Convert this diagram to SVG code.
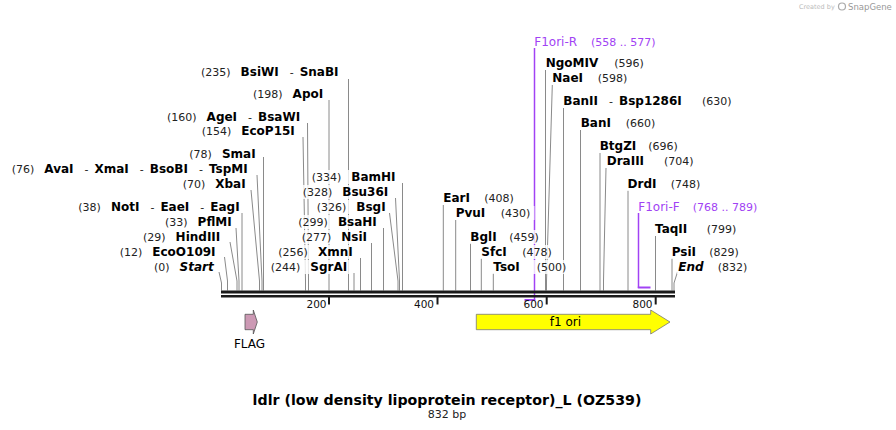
<svg xmlns="http://www.w3.org/2000/svg" width="896" height="430" viewBox="0 0 896 430">
<style>
text{font-family:"DejaVu Sans","Verdana",sans-serif}
.n{font-size:11px;fill:#222}
.b{font-size:12px;font-weight:bold;fill:#000}
.bi{font-size:12px;font-weight:bold;font-style:italic;fill:#000}
.p{fill:#a142f4}
.pn{font-size:12px;fill:#a142f4}
.pnum{font-size:11px;fill:#a142f4}
.bg{fill:#fff;fill-opacity:0.8}
.ln{fill:none;stroke:#8a8a8a;stroke-width:1}
.pl{fill:none;stroke:#a142f4;stroke-width:1.5}
.ps{fill:none;stroke:#a142f4;stroke-width:2}
.tick{stroke:#1a1a1a;stroke-width:2}
.tl{font-size:10.5px;fill:#111;text-anchor:end}
.ft{font-size:12px;fill:#000;text-anchor:middle}
</style>
<rect width="896" height="430" fill="#fff"/>
<g id="credit">
<text x="799" y="9" style="font-size:6.5px;fill:#bbb">Created by</text>
<circle cx="842" cy="6.5" r="3.5" fill="none" stroke="#aaa" stroke-width="1.2"/>
<text x="848" y="10" style="font-size:8.5px;fill:#999">SnapGene</text>
</g>
<g id="connectors">
<polyline class="ln" points="348.5,79 348.5,290.5"/>
<polyline class="ln" points="329,100 329,290.5"/>
<polyline class="ln" points="307.5,123 308.5,281 308.5,290.5"/>
<polyline class="ln" points="303,137 305.5,281 305.5,290.5"/>
<polyline class="ln" points="263.5,157 263.5,290.5"/>
<polyline class="ln" points="257,175 262,281 262,290.5"/>
<polyline class="ln" points="251,190 259.5,281 259.5,290.5"/>
<polyline class="ln" points="242,213 242,290.5"/>
<polyline class="ln" points="236,228 239,281 239,290.5"/>
<polyline class="ln" points="230,242 237,281 237,290.5"/>
<polyline class="ln" points="224.5,257 227.5,281 227.5,290.5"/>
<polyline class="ln" points="219,272 221.5,283 221.5,290.5"/>
<polyline class="ln" points="402.5,183 402.5,290.5"/>
<polyline class="ln" points="395.5,198 399.5,281 399.5,290.5"/>
<polyline class="ln" points="389.5,213 398,281 398,290.5"/>
<polyline class="ln" points="383.5,228 383.5,290.5"/>
<polyline class="ln" points="371.5,243 371.5,290.5"/>
<polyline class="ln" points="360.5,258 360.5,290.5"/>
<polyline class="ln" points="354,273 354,290.5"/>
<polyline class="ln" points="545.5,70 545.5,290.5"/>
<polyline class="ln" points="552.3,85 546.5,281 546.5,290.5"/>
<polyline class="ln" points="563.5,108 563.5,290.5"/>
<polyline class="ln" points="580.5,130 580.5,290.5"/>
<polyline class="ln" points="600,153 600,290.5"/>
<polyline class="ln" points="606,168 603.5,281 603.5,290.5"/>
<polyline class="ln" points="628,190 628,290.5"/>
<polyline class="ln" points="655.5,236 655.5,290.5"/>
<polyline class="ln" points="672,258 672,290.5"/>
<polyline class="ln" points="677.5,272 674,283 674,290.5"/>
<polyline class="ln" points="443.3,205 443.3,290.5"/>
<polyline class="ln" points="455.7,220 455.7,290.5"/>
<polyline class="ln" points="470.5,243 470.5,290.5"/>
<polyline class="ln" points="481.3,258 481.3,290.5"/>
<polyline class="ln" points="493.3,273 493.3,290.5"/>
<polyline class="pl" points="534.5,48 534.5,300"/>
<polyline class="ps" points="524.5,300 535.3,300"/>
<polyline class="pl" points="638.5,213 638.5,288"/>
<polyline class="ps" points="637.8,287.5 650.5,287.5"/>
</g>
<g id="backbone">
<rect x="221" y="290.5" width="454" height="3" fill="#1a1a1a"/>
<rect x="221" y="295" width="454" height="2.5" fill="#1a1a1a"/>
<line class="tick" x1="329" y1="297" x2="329" y2="304.5"/>
<line class="tick" x1="437.5" y1="297" x2="437.5" y2="304.5"/>
<line class="tick" x1="546.7" y1="297" x2="546.7" y2="304.5"/>
<line class="tick" x1="655.7" y1="297" x2="655.7" y2="304.5"/>
<text class="tl" x="326.5" y="307.5">200</text>
<text class="tl" x="434" y="307.5">400</text>
<text class="tl" x="543.5" y="307.5">600</text>
<text class="tl" x="652.5" y="307.5">800</text>
</g>
<g id="site-BsiWI-SnaBI"><rect class="bg" x="200" y="65" width="142" height="14"/><text x="201" y="76"><tspan class="n">(235)</tspan><tspan class="b" dx="10">BsiWI</tspan><tspan class="n" dx="11">-</tspan><tspan class="b" dx="6">SnaBI</tspan></text></g>
<g id="site-ApoI"><rect class="bg" x="252" y="87" width="74" height="14"/><text x="253" y="98"><tspan class="n">(198)</tspan><tspan class="b" dx="10">ApoI</tspan></text></g>
<g id="site-AgeI-BsaWI"><rect class="bg" x="166" y="110" width="138" height="14"/><text x="167" y="121"><tspan class="n">(160)</tspan><tspan class="b" dx="10">AgeI</tspan><tspan class="n" dx="11">-</tspan><tspan class="b" dx="6">BsaWI</tspan></text></g>
<g id="site-EcoP15I"><rect class="bg" x="200.5" y="124" width="97" height="14"/><text x="201.7" y="135"><tspan class="n">(154)</tspan><tspan class="b" dx="10">EcoP15I</tspan></text></g>
<g id="site-SmaI"><rect class="bg" x="188" y="147" width="70" height="14"/><text x="189.3" y="158"><tspan class="n">(78)</tspan><tspan class="b" dx="10">SmaI</tspan></text></g>
<g id="site-AvaI-XmaI-BsoBI-TspMI"><rect class="bg" x="10.5" y="162" width="242" height="14"/><text x="11.7" y="173"><tspan class="n">(76)</tspan><tspan class="b" dx="10">AvaI</tspan><tspan class="n" dx="11">-</tspan><tspan class="b" dx="6">XmaI</tspan><tspan class="n" dx="11">-</tspan><tspan class="b" dx="6">BsoBI</tspan><tspan class="n" dx="11">-</tspan><tspan class="b" dx="6">TspMI</tspan></text></g>
<g id="site-XbaI"><rect class="bg" x="181.5" y="177" width="66" height="14"/><text x="182.7" y="188"><tspan class="n">(70)</tspan><tspan class="b" dx="10">XbaI</tspan></text></g>
<g id="site-NotI-EaeI-EagI"><rect class="bg" x="77" y="200" width="164" height="14"/><text x="78.3" y="211"><tspan class="n">(38)</tspan><tspan class="b" dx="10">NotI</tspan><tspan class="n" dx="11">-</tspan><tspan class="b" dx="6">EaeI</tspan><tspan class="n" dx="11">-</tspan><tspan class="b" dx="6">EagI</tspan></text></g>
<g id="site-PflMI"><rect class="bg" x="164" y="215" width="70" height="14"/><text x="165" y="226"><tspan class="n">(33)</tspan><tspan class="b" dx="10">PflMI</tspan></text></g>
<g id="site-HindIII"><rect class="bg" x="142" y="230" width="80" height="14"/><text x="143" y="241"><tspan class="n">(29)</tspan><tspan class="b" dx="10">HindIII</tspan></text></g>
<g id="site-EcoO109I"><rect class="bg" x="118.5" y="245" width="99" height="14"/><text x="119.7" y="256"><tspan class="n">(12)</tspan><tspan class="b" dx="10">EcoO109I</tspan></text></g>
<g id="site-Start"><rect class="bg" x="153" y="260" width="63" height="14"/><text x="154" y="271"><tspan class="n">(0)</tspan><tspan class="bi" dx="10">Start</tspan></text></g>
<g id="site-BamHI"><rect class="bg" x="310.5" y="170" width="87" height="14"/><text x="311.7" y="181"><tspan class="n">(334)</tspan><tspan class="b" dx="10">BamHI</tspan></text></g>
<g id="site-Bsu36I"><rect class="bg" x="301.5" y="185" width="89" height="14"/><text x="302.7" y="196"><tspan class="n">(328)</tspan><tspan class="b" dx="10">Bsu36I</tspan></text></g>
<g id="site-BsgI"><rect class="bg" x="315.5" y="200" width="72" height="14"/><text x="316.7" y="211"><tspan class="n">(326)</tspan><tspan class="b" dx="10">BsgI</tspan></text></g>
<g id="site-BsaHI"><rect class="bg" x="297" y="215" width="82" height="14"/><text x="298.3" y="226"><tspan class="n">(299)</tspan><tspan class="b" dx="10">BsaHI</tspan></text></g>
<g id="site-NsiI"><rect class="bg" x="300.5" y="230" width="69" height="14"/><text x="301.7" y="241"><tspan class="n">(277)</tspan><tspan class="b" dx="10">NsiI</tspan></text></g>
<g id="site-XmnI"><rect class="bg" x="277" y="245" width="78" height="14"/><text x="278.3" y="256"><tspan class="n">(256)</tspan><tspan class="b" dx="10">XmnI</tspan></text></g>
<g id="site-SgrAI"><rect class="bg" x="269.5" y="260" width="80" height="14"/><text x="270.7" y="271"><tspan class="n">(244)</tspan><tspan class="b" dx="10">SgrAI</tspan></text></g>
<g id="primer-F1ori-R"><text class="pn" x="534.3" y="46">F1ori-R</text><text class="pnum" x="591" y="46">(558 .. 577)</text></g>
<g id="site-NgoMIV"><rect class="bg" x="544.5" y="56" width="102" height="14"/><text class="b" x="545.7" y="67">NgoMIV</text><text class="n" x="614.3" y="67">(596)</text></g>
<g id="site-NaeI"><rect class="bg" x="551" y="71" width="79" height="14"/><text class="b" x="552.3" y="82">NaeI</text><text class="n" x="597.7" y="82">(598)</text></g>
<g id="site-BanII-Bsp1286I"><rect class="bg" x="562" y="94" width="172" height="14"/><text x="563.3" y="105"><tspan class="b">BanII</tspan><tspan class="n" dx="11">-</tspan><tspan class="b" dx="6">Bsp1286I</tspan></text><text class="n" x="702" y="105">(630)</text></g>
<g id="site-BanI"><rect class="bg" x="579.5" y="116" width="78" height="14"/><text class="b" x="580.7" y="127">BanI</text><text class="n" x="625.7" y="127">(660)</text></g>
<g id="site-BtgZI"><rect class="bg" x="598.5" y="139" width="81" height="14"/><text class="b" x="599.7" y="150">BtgZI</text><text class="n" x="648.3" y="150">(696)</text></g>
<g id="site-DraIII"><rect class="bg" x="605.5" y="154" width="90" height="14"/><text class="b" x="606.7" y="165">DraIII</text><text class="n" x="664" y="165">(704)</text></g>
<g id="site-DrdI"><rect class="bg" x="626.5" y="177" width="75" height="14"/><text class="b" x="627.5" y="188">DrdI</text><text class="n" x="670.7" y="188">(748)</text></g>
<g id="primer-F1ori-F"><text class="pn" x="638.3" y="211">F1ori-F</text><text class="pnum" x="692.7" y="211">(768 .. 789)</text></g>
<g id="site-TaqII"><rect class="bg" x="654" y="222" width="84" height="14"/><text class="b" x="655" y="233">TaqII</text><text class="n" x="706.7" y="233">(799)</text></g>
<g id="site-PsiI"><rect class="bg" x="670.5" y="245" width="70" height="14"/><text class="b" x="671.7" y="256">PsiI</text><text class="n" x="709.3" y="256">(829)</text></g>
<g id="site-End"><rect class="bg" x="677" y="260" width="72" height="14"/><text class="bi" x="678.3" y="271">End</text><text class="n" x="717.7" y="271">(832)</text></g>
<g id="site-EarI"><rect class="bg" x="442" y="191" width="74" height="14"/><text class="b" x="443.3" y="202">EarI</text><text class="n" x="484.3" y="202">(408)</text></g>
<g id="site-PvuI"><rect class="bg" x="454.5" y="206" width="80" height="14"/><text class="b" x="455.7" y="217">PvuI</text><text class="n" x="500.7" y="217">(430)</text></g>
<g id="site-BglI"><rect class="bg" x="469" y="230" width="72" height="14"/><text class="b" x="470.3" y="241">BglI</text><text class="n" x="509.3" y="241">(459)</text></g>
<g id="site-SfcI"><rect class="bg" x="480" y="245" width="74" height="14"/><text class="b" x="481.3" y="256">SfcI</text><text class="n" x="522.3" y="256">(478)</text></g>
<g id="site-TsoI"><rect class="bg" x="492" y="260" width="76" height="14"/><text class="b" x="493.3" y="271">TsoI</text><text class="n" x="536.7" y="271">(500)</text></g>
<g id="feature-FLAG">
<path d="M245,314.3 H253.3 V310 L257.3,322 L253.3,334 V329.7 H245 Z" fill="#cc99b4" stroke="#555" stroke-width="0.8"/>
<text class="ft" x="249.5" y="348">FLAG</text>
</g>
<g id="feature-f1ori">
<path d="M476.3,314.3 H650.7 V310 L670,322 L650.7,334 V329.7 H476.3 Z" fill="#ffff00" stroke="#777" stroke-width="0.8"/>
<text class="ft" x="565.5" y="326">f1 ori</text>
</g>
<g id="title">
<text x="447" y="405" text-anchor="middle" style="font-size:14.2px;font-weight:bold;fill:#000">ldlr (low density lipoprotein receptor)_L (OZ539)</text>
<text x="447" y="417.5" text-anchor="middle" style="font-size:11px;fill:#222">832 bp</text>
</g>
</svg>
